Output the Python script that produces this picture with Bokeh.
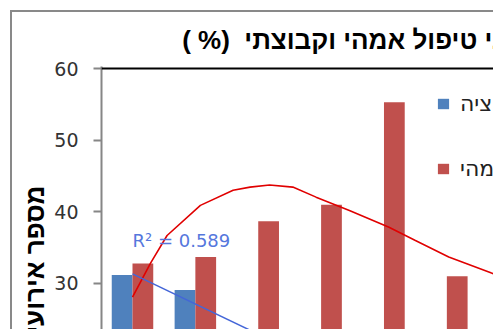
from bokeh.plotting import figure
from bokeh.models import (Range1d, FixedTicker, Span, Label, Legend, LegendItem,
                          Title, InlineStyleSheet)
from bokeh.embed import file_html
from bokeh.resources import INLINE

# ---- data ----
categories = [1, 2, 3, 4, 5, 6]
maternal = [32.8, 33.7, 38.7, 41.0, 55.3, 31.0]      # red series
group = [31.2, 29.1, 20.0, 15.0, 12.0, 9.0]          # blue series (lower bars hidden by crop)
y_ticks = [0, 10, 20, 30, 40, 50, 60]

poly_x = [1.0, 1.285, 1.55, 2.08, 2.6, 2.87, 3.18, 3.55, 3.92, 4.45, 5.08, 5.5, 6.03, 6.71, 7.0]
poly_y = [28.1, 32.8, 36.7, 40.9, 43.0, 43.45, 43.75, 43.45, 42.05, 40.2, 37.85, 36.0, 33.7, 31.45, 30.6]
lin_x = [1, 7]
lin_y = [31.35, 6.1]

title_text = "( %)\u00a0 " + "מספר אירועי טיפול אמהי וקבוצתי"
ylabel_text = "מספר אירועים"
legend_group = "אינטראקציה"
legend_maternal = "טיפול אמהי"
r2_text = "R² = 0.589"

BLUE = "#4F81BD"
RED = "#C0504D"

css = InlineStyleSheet(css="""
:host { position: relative; }
:host::after {
  content: ""; position: absolute; left: 10px; top: 10px; right: 0; bottom: 0;
  border-top: 2px solid #898989; border-left: 2px solid #898989;
  pointer-events: none;
}
""")

p = figure(width=493, height=329, output_backend="svg", toolbar_location=None,
           x_range=Range1d(0.507, 6.742), y_range=Range1d(23.58, 60.28),
           min_border_left=101, min_border_top=66, min_border_right=0, min_border_bottom=0,
           stylesheets=[css])
p.background_fill_color = "white"
p.border_fill_color = "white"
p.outline_line_color = None
p.xgrid.visible = False
p.ygrid.visible = False
p.xaxis.visible = False

ax = p.yaxis[0]
ax.ticker = FixedTicker(ticks=y_ticks)
ax.axis_line_color = "#868686"
ax.axis_line_width = 2
ax.major_tick_line_color = "#868686"
ax.major_tick_line_width = 2
ax.major_tick_in = 0
ax.major_tick_out = 8
ax.minor_tick_line_color = None
ax.major_label_text_font = "DejaVu Sans"
ax.major_label_text_font_size = "19px"
ax.major_label_text_color = "#333333"
ax.major_label_standoff = 15

xb = [c - 0.165 for c in categories]
xr = [c + 0.165 for c in categories]
rb = p.vbar(x=xb, top=group, bottom=0, width=0.33, fill_color=BLUE, line_color=None)
rr = p.vbar(x=xr, top=maternal, bottom=0, width=0.33, fill_color=RED, line_color=None)

p.line(poly_x, poly_y, line_color="#E00000", line_width=1.6)
p.line(lin_x, lin_y, line_color="#4466D8", line_width=1.5)

p.add_layout(Span(location=60, dimension="width", line_color="black", line_width=2))

p.add_layout(Label(x=1.0, y=36.0, text=r2_text, text_font="DejaVu Sans",
                   text_font_size="18px", text_color="#5577DD",
                   text_align="left", text_baseline="alphabetic"))

p.title.text = title_text
p.title.align = "left"
p.title.offset = 80.7
p.title.vertical_align = "bottom"
p.title.standoff = 23
p.title.text_font = "Liberation Sans"
p.title.text_font_style = "bold"
p.title.text_font_size = "26px"
p.title.text_color = "black"

p.add_layout(Title(text=ylabel_text, align="right", offset=119, vertical_align="bottom",
                   standoff=4, text_font="Liberation Sans", text_font_style="bold",
                   text_font_size="26px", text_color="black"), "left")

legend = Legend(items=[LegendItem(label=legend_group, renderers=[rb]),
                       LegendItem(label=legend_maternal, renderers=[rr])],
                location=(335, 148), orientation="vertical",
                glyph_width=14, glyph_height=13, label_standoff=10,
                spacing=40, padding=0, margin=0,
                label_text_font="DejaVu Sans", label_text_font_size="22px",
                label_text_color="#222222",
                border_line_color=None, background_fill_alpha=0)
p.add_layout(legend)

open("out.html", "w").write(file_html(p, INLINE))
